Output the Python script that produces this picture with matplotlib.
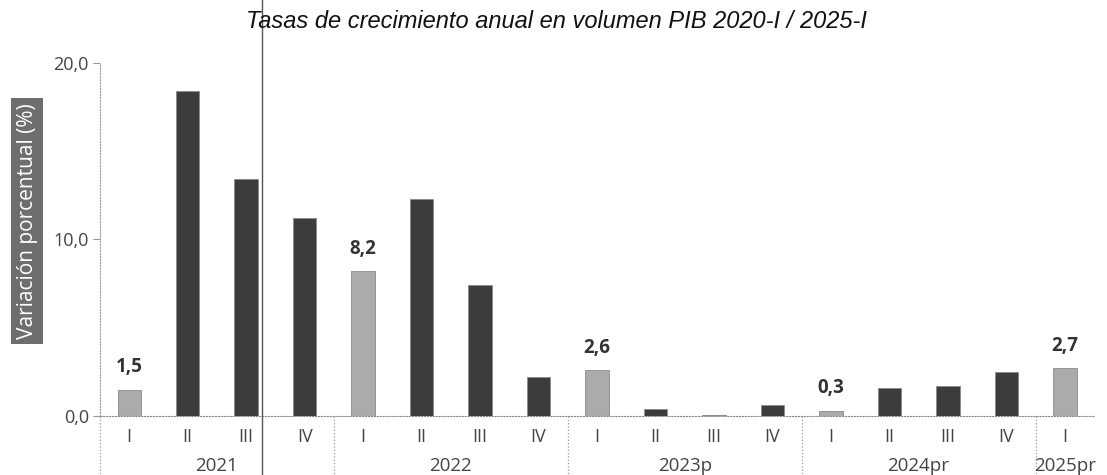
import matplotlib.pyplot as plt
import matplotlib.lines as mlines

# --------------------------------------------------
# DATA
# --------------------------------------------------
years = ["2021", "2022", "2023p", "2024pr", "2025pr"]
quarters_per_year = [4, 4, 4, 4, 1]
quarter_names = ["I", "II", "III", "IV"]
values = [1.5, 18.4, 13.4, 11.2,
          8.2, 12.3, 7.4, 2.2,
          2.6, 0.4, 0.05, 0.6,
          0.3, 1.6, 1.7, 2.5,
          2.7]
labels = ["1,5", "", "", "",
          "8,2", "", "", "",
          "2,6", "", "", "",
          "0,3", "", "", "",
          "2,7"]

LIGHT = "#ababab"
DARK = "#3c3c3c"
TXT = "#444444"

plt.rcParams["font.family"] = ["Open Sans", "DejaVu Sans"]

fig = plt.figure(figsize=(11.07, 4.75), dpi=100)
ax = fig.add_axes([0.0903, 0.124, 0.898, 0.744])

tick_names = []
for n in quarters_per_year:
    tick_names += quarter_names[:n]

x = list(range(len(values)))
colors = [LIGHT if q == "I" else DARK for q in tick_names]

ax.bar(x, values, width=0.4, color=colors, edgecolor="#8a8a8a", linewidth=0.6)

for xi, v, lab in zip(x, values, labels):
    if lab:
        ax.text(xi, v + 0.7, lab, ha="center", va="bottom",
                fontsize=13.5, fontweight="bold", color="#333333")

ax.set_xlim(-0.5, len(values) - 0.5)
ax.set_ylim(0, 20)
ax.set_yticks([0, 10, 20])
ax.set_yticklabels(["0,0", "10,0", "20,0"], fontsize=13, color=TXT)
ax.tick_params(axis="y", length=5, color="#999999", pad=3)
ax.set_xticks([])

for side in ["top", "right"]:
    ax.spines[side].set_visible(False)
ax.spines["left"].set_linestyle(":")
ax.spines["left"].set_color("#999999")
ax.spines["bottom"].set_linestyle(":")
ax.spines["bottom"].set_color("#888888")

# quarter labels, year labels and group separators
trans = ax.get_xaxis_transform()
for xi, q in zip(x, tick_names):
    ax.text(xi, -0.06, q, transform=trans, ha="center", va="center",
            fontsize=13, color=TXT)

start = 0
for yr, n in zip(years, quarters_per_year):
    ax.text(start + (n - 1) / 2, -0.14, yr, transform=trans,
            ha="center", va="center", fontsize=13.5, color=TXT)
    ax.plot([start - 0.5, start - 0.5], [0, -0.17], transform=trans,
            color="#999999", linestyle=":", linewidth=0.9, clip_on=False)
    start += n

# --------------------------------------------------
# TITLE / AXIS LABEL
# --------------------------------------------------
fig.text(0.503, 0.955, "Tasas de crecimiento anual en volumen PIB 2020-I / 2025-I",
         ha="center", va="center", fontsize=17, style="italic",
         family=["Liberation Sans Narrow", "Liberation Sans", "DejaVu Sans"],
         color="#111111")

fig.text(0.0245, 0.535, "Variación porcentual (%)", rotation=90,
         ha="center", va="center", fontsize=15, color="white",
         bbox=dict(boxstyle="square,pad=0.25", facecolor="#6e6e6e",
                   edgecolor="none"))

# vertical rule across the page
fig.add_artist(mlines.Line2D([262 / 1107, 262 / 1107], [0, 1],
                             color="#555555", linewidth=1.0))

fig.savefig("out.png", dpi=100)
